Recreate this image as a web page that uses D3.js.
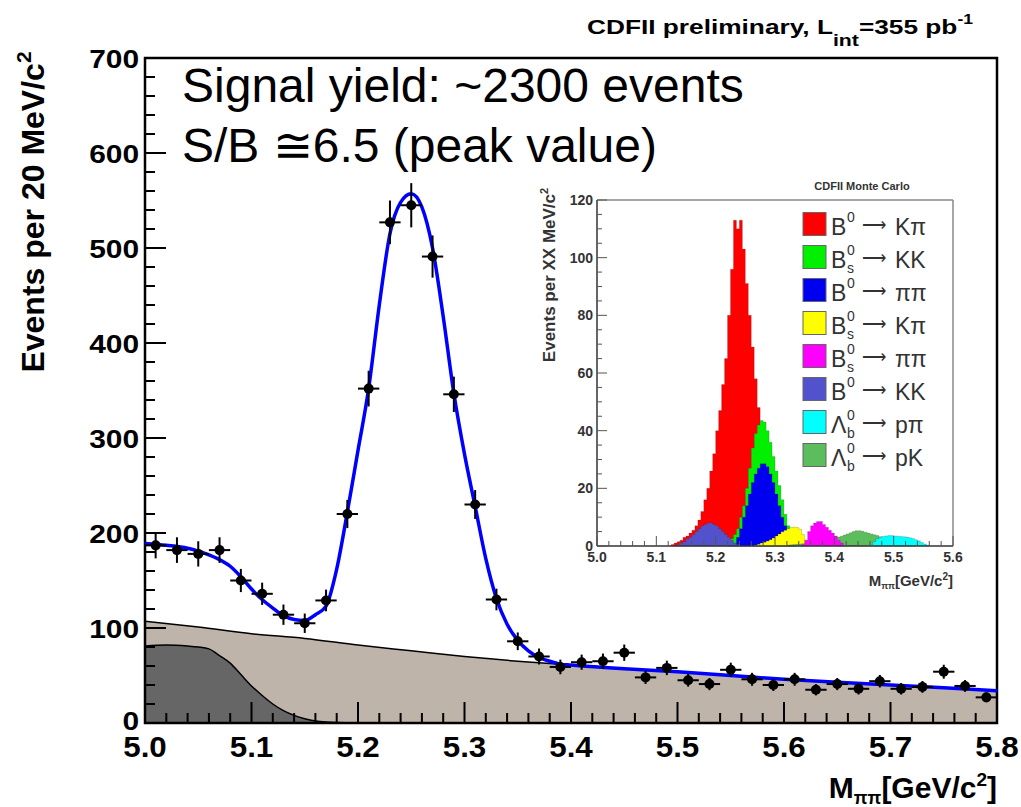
<!DOCTYPE html>
<html><head><meta charset="utf-8">
<script src="https://cdn.jsdelivr.net/npm/d3@7"></script>
<style>
body{margin:0;background:#fff}
svg{display:block}
text{font-family:"Liberation Sans",Arial,Helvetica,sans-serif}
</style>
</head><body>
<svg id="c" width="1021" height="807"></svg>
<script>
// ---------------- main plot data ----------------
const xTickLabels = ["5.0","5.1","5.2","5.3","5.4","5.5","5.6","5.7","5.8"];
const yTickLabels = ["0","100","200","300","400","500","600","700"];
const binCenters = [5.01,5.03,5.05,5.07,5.09,5.11,5.13,5.15,5.17,5.19,5.21,5.23,5.25,5.27,5.29,5.31,5.33,5.35,5.37,5.39,
                    5.41,5.43,5.45,5.47,5.49,5.51,5.53,5.55,5.57,5.59,5.61,5.63,5.65,5.67,5.69,5.71,5.73,5.75,5.77,5.79];
const counts = [187,182,178,182,150,136,114,105,129,220,352,527,545,491,346,230,130,86,70,59,
                64,65,74,48,58,45,41,56,46,40,46,35,41,36,44,36,38,54,39,27];
const errors = [13.7,13.5,13.3,13.5,12.2,11.7,10.7,10.2,11.4,14.8,18.8,23.0,23.3,22.2,18.6,15.2,11.4,9.3,8.4,7.7,
                8.0,8.1,8.6,6.9,7.6,6.7,6.4,7.5,6.8,6.3,6.8,5.9,6.4,6.0,6.6,6.0,6.2,7.3,6.2,5.2];
const halfBin = 0.01;
const fitMass = [5.00,5.02,5.04,5.05,5.06,5.07,5.08,5.09,5.10,5.11,5.12,5.13,5.14,5.15,5.16,5.17,5.18,5.19,5.20,5.21,
                 5.22,5.23,5.24,5.25,5.26,5.27,5.28,5.29,5.30,5.31,5.32,5.33,5.34,5.35,5.36,5.37,5.38,5.39,5.40,
                 5.45,5.50,5.55,5.60,5.65,5.70,5.75,5.80];
const fitValue = [189,187,184,181,177,172,165,154,141,130,121,113,109,108,114,123,162,222,287,352,
                  440,515,548,557,543,500,428,347,283,228,173,131,104,87,76,69,65,62,61,
                  57,54,50,46,43,40,37,34];
const combMass = [5.00,5.05,5.10,5.15,5.20,5.25,5.30,5.35,5.40,5.45,5.50,5.55,5.60,5.65,5.70,5.75,5.80];
const combValue = [107,101,94,89,82,76,70,65,61,57,54,50,46,43,40,37,34];
const physMass = [5.00,5.02,5.04,5.05,5.06,5.07,5.08,5.09,5.10,5.11,5.12,5.13,5.14,5.15,5.16,5.17,5.18,5.20];
const physValue = [81,82,81,80,78,71,63,51,39,29,20,13,8,4.5,2.2,1,0.4,0];

// ---------------- inset (Monte Carlo) data ----------------
const insetXTickLabels = ["5.0","5.1","5.2","5.3","5.4","5.5","5.6"];
const insetYTickLabels = ["0","20","40","60","80","100","120"];
const mcBinWidth = 0.005;
const mcNames = ["B0Kpi","BsKK","B0pipi","BsKpi","Bspipi","B0KK","Lbppi","LbpK"];
const mcBase  = ["B","B","B","B","B","B","Λ","Λ"];
const mcSub   = ["","s","","s","s","","b","b"];
const mcFinal = ["Kπ","KK","ππ","Kπ","ππ","KK","pπ","pK"];
const mcColors = ["#ff0000","#00f000","#0000f0","#ffff00","#ff00ff","#5252cc","#00ffff","#5cbd5c"];
const mcStart = [5.125,5.215,5.23,5.265,5.345,5.135,5.46,5.32];
const mcB0Kpi = [0.5,1,1.5,2,3,3.5,4.5,5.5,7,9,12,16,20,26,32,40,47,56,65,80,96,113,110,113,103,91,80,69,58,48,40,33,27,21,16,12,8,5,3,2];
const mcBsKK = [1,1.5,2.5,4,6,10,14,20,27,34,39,42,43.5,43,40,36,31,26,21,16,11,7,3,1];
const mcB0pipi = [1,3,6,10,14,18,22,25,27,28.5,28.5,27.5,25,22,18,14,10,7,4,2,0.5];
const mcBsKpi = [0.3,0.6,1,1.3,1.7,2.2,2.8,3.5,4.2,4.9,5.5,6,6.4,6.6,6.4,5.8,4,2,0.8];
const mcBspipi = [0.5,2,5,7,8,8.5,8.5,7.5,6.5,5.5,4.5,3.5,2,1];
const mcB0KK = [0.5,1,1.5,2.5,3,4,5,6,7,7.5,8,8,7.5,7,6,5,4,3,2,1,0.5];
const mcLbppi = [0.5,1.5,2.5,3,3.3,3.5,3.6,3.6,3.5,3.4,3.3,3.2,3.1,2.9,2.6,2.2,1.8,1.2,0.7,0.3];
const mcLbpK = [0.3,0.4,0.5,0.6,0.7,0.8,1,1.1,1.3,1.4,1.6,1.8,2,2.2,2.4,2.6,2.9,3.1,3.4,3.8,4.2,4.6,5,5.3,5.3,5.1,4.8,4.5,4.2,3.9,3.6,3.2,2.8,2.4,2,1.6,1.3,1,0.8,0.6,0.4,0.3,0.2];
const mcValues = [mcB0Kpi,mcBsKK,mcB0pipi,mcBsKpi,mcBspipi,mcB0KK,mcLbppi,mcLbpK];
const mcDrawOrder = [0,1,2,3,7,4,6,5];

// ---------------- drawing ----------------
const svg = d3.select("#c");
const x = d3.scaleLinear().domain([5.0,5.8]).range([145,997]);
const y = d3.scaleLinear().domain([0,700]).range([723,58]);

// background components
const combArea = d3.area().x((d,i)=>x(combMass[i])).y0(y(0)).y1((d,i)=>y(combValue[i])).curve(d3.curveMonotoneX);
svg.append("path").attr("d",combArea(combValue)).attr("fill","#bfb4aa");
svg.append("path").attr("d",d3.line().x((d,i)=>x(combMass[i])).y((d,i)=>y(combValue[i])).curve(d3.curveMonotoneX)(combValue))
   .attr("fill","none").attr("stroke","#000").attr("stroke-width",1.5);
const physArea = d3.area().x((d,i)=>x(physMass[i])).y0(y(0)).y1((d,i)=>y(physValue[i])).curve(d3.curveMonotoneX);
svg.append("path").attr("d",physArea(physValue)).attr("fill","#666666");
svg.append("path").attr("d",d3.line().x((d,i)=>x(physMass[i])).y((d,i)=>y(physValue[i])).curve(d3.curveMonotoneX)(physValue))
   .attr("fill","none").attr("stroke","#000").attr("stroke-width",1.5);

// axes with inward ticks
function tickRange(a,b,s){const r=[];for(let v=a;v<=b+1e-9;v+=s)r.push(+v.toFixed(4));return r;}
const gAx = svg.append("g").attr("stroke","#000");
tickRange(5.0,5.8,0.02).forEach((m,i)=>{
  const major = Math.abs(m*10-Math.round(m*10))<1e-6;
  gAx.append("line").attr("x1",x(m)).attr("x2",x(m)).attr("y1",y(0)).attr("y2",y(0)-(major?21:10)).attr("stroke-width",2);
});
tickRange(0,700,20).forEach(v=>{
  const major = v%100===0;
  gAx.append("line").attr("x1",x(5.0)).attr("x2",x(5.0)+(major?21:10)).attr("y1",y(v)).attr("y2",y(v)).attr("stroke-width",2);
});
svg.append("rect").attr("x",x(5.0)).attr("y",y(700)).attr("width",x(5.8)-x(5.0)).attr("height",y(0)-y(700))
   .attr("fill","none").attr("stroke","#000").attr("stroke-width",2.5);

xTickLabels.forEach(t=>{
  svg.append("text").attr("transform",`translate(${x(+t)},757) scale(1.08,1)`).attr("text-anchor","middle")
     .attr("font-size",29).attr("font-weight","bold").text(t);
});
yTickLabels.forEach(t=>{
  svg.append("text").attr("transform",`translate(139,${y(+t)+(t==="0"?7:9.5)}) scale(1.15,1)`).attr("text-anchor","end")
     .attr("font-size",26).attr("font-weight","bold").text(t);
});

// fit
svg.append("path").attr("d",d3.line().x((d,i)=>x(fitMass[i])).y((d,i)=>y(fitValue[i])).curve(d3.curveMonotoneX)(fitValue))
   .attr("fill","none").attr("stroke","#0000ff").attr("stroke-width",3.5);

// data points with error bars
const gp = svg.append("g");
counts.forEach((c,i)=>{
  const cx=x(binCenters[i]), cy=y(c);
  gp.append("line").attr("x1",x(binCenters[i]-halfBin)).attr("x2",x(binCenters[i]+halfBin)).attr("y1",cy).attr("y2",cy).attr("stroke","#000").attr("stroke-width",2);
  gp.append("line").attr("x1",cx).attr("x2",cx).attr("y1",y(c-errors[i])).attr("y2",y(c+errors[i])).attr("stroke","#000").attr("stroke-width",2);
  gp.append("circle").attr("cx",cx).attr("cy",cy).attr("r",5).attr("fill","#000");
});

// titles
const t1 = svg.append("text").attr("transform","translate(587,34) scale(1.25,1)").attr("font-size",21).attr("font-weight","bold");
t1.append("tspan").text("CDFII preliminary, L");
t1.append("tspan").attr("dy",12).attr("font-size",17).text("int");
t1.append("tspan").attr("dy",-12).text("=355 pb");
t1.append("tspan").attr("dy",-10).attr("font-size",14).text("-1");

svg.append("text").attr("x",182).attr("y",102).attr("font-size",48).text("Signal yield: ~2300 events");
svg.append("text").attr("x",182).attr("y",162).attr("font-size",48).text("S/B ≅6.5 (peak value)");

const yl = svg.append("text").attr("transform","translate(44,212) rotate(-90)").attr("text-anchor","middle")
   .attr("font-size",32).attr("font-weight","bold");
yl.append("tspan").text("Events per 20 MeV/c");
yl.append("tspan").attr("dy",-13).attr("font-size",21).text("2");

const xl = svg.append("text").attr("x",997).attr("y",798).attr("text-anchor","end").attr("font-size",30).attr("font-weight","bold");
xl.append("tspan").text("M");
xl.append("tspan").attr("dy",6).attr("font-size",18).text("ππ");
xl.append("tspan").attr("dy",-6).text("[GeV/c");
xl.append("tspan").attr("dy",-12).attr("font-size",19).text("2");
xl.append("tspan").attr("dy",12).text("]");

// ---------------- inset ----------------
const xi = d3.scaleLinear().domain([5.0,5.6]).range([597,953]);
const yi = d3.scaleLinear().domain([0,120]).range([546,200]);
const gi = svg.append("g");
mcDrawOrder.forEach(k=>{
  const vals = mcValues[k];
  const pts = vals.map((v,j)=>({m:mcStart[k]+j*mcBinWidth,v:v}));
  pts.push({m:mcStart[k]+vals.length*mcBinWidth,v:0});
  const ar = d3.area().x(d=>xi(d.m)).y0(yi(0)).y1(d=>yi(d.v)).curve(d3.curveStepAfter);
  gi.append("path").attr("d",ar(pts)).attr("fill",mcColors[k]).attr("stroke","#333").attr("stroke-width",0.4).attr("stroke-opacity",0.5);
});
// inset frame & ticks
gi.append("line").attr("x1",xi(5.0)).attr("x2",xi(5.6)).attr("y1",yi(120)).attr("y2",yi(120)).attr("stroke","#888").attr("stroke-width",1.5);
gi.append("line").attr("x1",xi(5.6)).attr("x2",xi(5.6)).attr("y1",yi(120)).attr("y2",yi(0)).attr("stroke","#888").attr("stroke-width",1.5);
gi.append("line").attr("x1",xi(5.0)).attr("x2",xi(5.6)).attr("y1",yi(0)).attr("y2",yi(0)).attr("stroke","#333").attr("stroke-width",1.5);
gi.append("line").attr("x1",xi(5.0)).attr("x2",xi(5.0)).attr("y1",yi(120)).attr("y2",yi(0)).attr("stroke","#333").attr("stroke-width",1.5);
tickRange(5.0,5.6,0.02).forEach(m=>{
  const major = Math.abs(m*10-Math.round(m*10))<1e-6;
  gi.append("line").attr("x1",xi(m)).attr("x2",xi(m)).attr("y1",yi(0)).attr("y2",yi(0)-(major?10:5)).attr("stroke","#555").attr("stroke-width",1);
});
tickRange(0,120,5).forEach(v=>{
  const major = v%20===0;
  gi.append("line").attr("x1",xi(5.0)).attr("x2",xi(5.0)+(major?10:5)).attr("y1",yi(v)).attr("y2",yi(v)).attr("stroke","#555").attr("stroke-width",1);
});
insetXTickLabels.forEach(t=>{
  gi.append("text").attr("x",xi(+t)).attr("y",562).attr("text-anchor","middle").attr("font-size",14).attr("font-weight","bold").attr("fill","#333").text(t);
});
insetYTickLabels.forEach(t=>{
  gi.append("text").attr("x",593).attr("y",yi(+t)+5).attr("text-anchor","end").attr("font-size",14).attr("font-weight","bold").attr("fill","#333").text(t);
});
gi.append("text").attr("x",862).attr("y",190).attr("text-anchor","middle").attr("font-size",11).attr("font-weight","bold").attr("fill","#333").text("CDFII Monte Carlo");
const iyl = gi.append("text").attr("transform","translate(555,275) rotate(-90)").attr("text-anchor","middle").attr("font-size",17).attr("font-weight","bold").attr("fill","#333");
iyl.append("tspan").text("Events per XX MeV/c");
iyl.append("tspan").attr("dy",-7).attr("font-size",11).text("2");
const ixl = gi.append("text").attr("x",953).attr("y",586).attr("text-anchor","end").attr("font-size",15).attr("font-weight","bold").attr("fill","#333");
ixl.append("tspan").text("M");
ixl.append("tspan").attr("dy",3).attr("font-size",9).text("ππ");
ixl.append("tspan").attr("dy",-3).text("[GeV/c");
ixl.append("tspan").attr("dy",-6).attr("font-size",10).text("2");
ixl.append("tspan").attr("dy",6).text("]");

// inset legend
mcNames.forEach((n,k)=>{
  const cy = 224 + k*33;
  gi.append("rect").attr("x",803).attr("y",cy-11.5).attr("width",23).attr("height",23).attr("fill",mcColors[k]).attr("stroke","#666").attr("stroke-width",1);
  gi.append("text").attr("x",831).attr("y",cy+11).attr("font-size",23).attr("fill","#333").text(mcBase[k]);
  gi.append("text").attr("x",847).attr("y",cy-2).attr("font-size",14).attr("fill","#333").text("0");
  if(mcSub[k]) gi.append("text").attr("x",847).attr("y",cy+16).attr("font-size",14).attr("fill","#333").text(mcSub[k]);
  gi.append("text").attr("x",862).attr("y",cy+7).attr("font-size",17).attr("font-family","DejaVu Sans").attr("fill","#333").text("⟶");
  gi.append("text").attr("x",895).attr("y",cy+11).attr("font-size",23).attr("font-family","Liberation Serif").attr("fill","#333").text(mcFinal[k]);
});
</script>
</body></html>
